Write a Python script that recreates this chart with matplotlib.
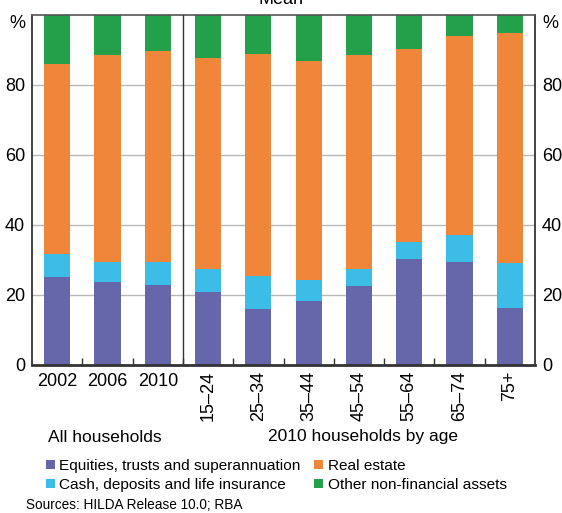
import numpy as np
import matplotlib
matplotlib.use("Agg")
import matplotlib.pyplot as plt
from matplotlib.patches import Patch

plt.rcParams['font.family'] = ['Liberation Sans', 'DejaVu Sans']

# Data (per cent of total assets)
categories = ['2002', '2006', '2010', '15–24', '25–34', '35–44',
              '45–54', '55–64', '65–74', '75+']
equities = [25.1, 23.7, 22.9, 20.9, 16.0, 18.3, 22.6, 30.3, 29.4, 16.3]
cash = [6.7, 5.8, 6.6, 6.5, 9.5, 6.1, 4.8, 4.9, 7.6, 12.7]
real_estate = [54.3, 59.1, 60.2, 60.3, 63.4, 62.5, 61.2, 55.1, 57.1, 65.9]
other = [13.9, 11.4, 10.3, 12.3, 11.1, 13.1, 11.4, 9.7, 5.9, 5.1]

series_names = ['Equities, trusts and superannuation',
                'Cash, deposits and life insurance',
                'Real estate', 'Other non-financial assets']
colors = ['#6667ab', '#3cbde8', '#f0863a', '#25a04a']

fig = plt.figure(figsize=(5.62, 5.13), dpi=100)
ax = fig.add_axes([0.057, 0.2885, 0.895, 0.6825])

x = np.arange(len(categories))
bottom = np.zeros(len(categories))
for vals, c in zip([equities, cash, real_estate, other], colors):
    ax.bar(x, vals, width=0.52, bottom=bottom, color=c, zorder=2)
    bottom += np.array(vals)

ax.set_xlim(-0.5, len(categories) - 0.5)
ax.set_ylim(0, 100)

# gridlines
for yv in [20, 40, 60, 80]:
    ax.axhline(yv, color='#b8b8b8', lw=1, zorder=1)
# divider between the two groups
ax.axvline(2.5, color='#333333', lw=1, zorder=3)

# y ticks on both sides, '%' in place of 100
ax.set_yticks([0, 20, 40, 60, 80, 100])
ax.set_yticklabels(['0', '20', '40', '60', '80', '%'])
ax.tick_params(axis='y', length=0, labelsize=13, pad=5,
               left=True, right=True, labelleft=True, labelright=True)
for t in ax.yaxis.get_majorticklabels():
    if t.get_text() == '%':
        t.set_verticalalignment('top')

# small ticks between bars
ax.set_xticks(np.arange(0.5, len(categories) - 1, 1.0))
ax.set_xticklabels([])
ax.tick_params(axis='x', direction='in', length=5, color='#333333', width=1)

# category labels
for i, lab in enumerate(categories):
    if i < 3:
        ax.text(i, -2.3, lab, ha='center', va='top', fontsize=13,
                clip_on=False)
    else:
        ax.text(i, -1.7, lab, ha='center', va='top', fontsize=13,
                rotation=90, clip_on=False)

for side in ['left', 'right']:
    ax.spines[side].set_color('#222222')
    ax.spines[side].set_linewidth(1.2)
ax.spines['bottom'].set_color('#333333')
ax.spines['bottom'].set_linewidth(2)
ax.spines['top'].set_color('#555555')
ax.spines['top'].set_linewidth(1.2)

fig.text(0.5, 1.0, 'Mean', ha='center', va='center', fontsize=13)

fig.text(105 / 562, 1 - 437 / 513, 'All households', ha='center',
         va='center', fontsize=12.5)
fig.text(363 / 562, 1 - 437 / 513, '2010 households by age', ha='center',
         va='center', fontsize=12.5)

handles = [Patch(facecolor=c, edgecolor='none') for c in colors]
fig.legend(handles, series_names, ncol=2, loc='upper left',
           bbox_to_anchor=(0.082, 1 - 459 / 513), frameon=False,
           fontsize=11.1, handlelength=0.55, handleheight=0.55,
           handletextpad=0.3, columnspacing=0.9, labelspacing=0.32,
           borderaxespad=0, borderpad=0)

fig.text(0.047, 1 - 505 / 513, 'Sources: HILDA Release 10.0; RBA',
         ha='left', va='center', fontsize=9.8)

fig.savefig('out.png', dpi=100)
